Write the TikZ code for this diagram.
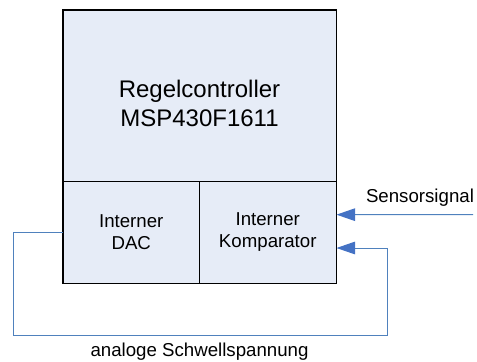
\documentclass[tikz,border=0pt]{standalone}
\usepackage{fontspec}
\setmainfont{Liberation Sans}
\usetikzlibrary{arrows.meta}

\definecolor{boxfill}{RGB}{230,236,247}
\definecolor{sigblue}{RGB}{79,129,189}
\definecolor{tipblue}{RGB}{68,114,196}

\tikzset{every picture/.style={line width=0.75pt}}
\tikzset{
  unitbox/.style={draw, fill=boxfill, minimum width=136.5*0.75pt, minimum height=102*0.75pt, inner sep=0pt, align=center, font=\fontsize{14}{16.5}\selectfont},
  sigline/.style={draw=sigblue, line width=0.75pt, -{Triangle[length=14pt,width=9.5pt,fill=tipblue,color=tipblue]}}
}

\begin{document}
\begin{tikzpicture}[x=0.75pt,y=0.75pt,yscale=-1,xscale=1]
\useasboundingbox (0,0) rectangle (477,361);

%Shape: Rectangle [id:ctrl]
\node [draw, fill=boxfill, minimum width=273*0.75pt, minimum height=171*0.75pt, inner sep=0pt] (ctrl) at (199.5,95.5) {};
%Shape: Rectangle [id:dac]
\node [unitbox] (dac) at (131.25,232) {Interner\\DAC};
%Shape: Rectangle [id:komp]
\node [unitbox] (komp) at (267.75,232) {Interner\\Komparator};
%Shape: Outer frame
\draw [line width=1.1pt] (ctrl.north west) rectangle (komp.south east);

% Text Node
\node [align=center, inner sep=0pt, font=\fontsize{18}{21.75}\selectfont] (ctrltxt) at (199.5,103) {Regelcontroller\\MSP430F1611};

%Straight Lines [id:sensor]
\coordinate (sensor) at (473,214.6);
\coordinate (sin) at ([yshift=-13pt]komp.east);
\draw [sigline] (sensor) -- (sin);
% Text Node
\node [anchor=base west, inner sep=0pt, font=\fontsize{14}{16.5}\selectfont] (senstxt) at (365.5,202) {Sensorsignal};

%Straight Lines [id:feedback]
\coordinate (fbl) at (13,335);
\coordinate (fbr) at (387,335);
\coordinate (kin) at ([yshift=12pt]komp.east);
\draw [sigline] (dac.west) -- (fbl |- dac.west) -- (fbl) -- (fbr) -- (fbr |- kin) -- (kin);
% Text Node
\node [anchor=base, inner sep=0pt, font=\fontsize{14}{16.5}\selectfont] (fbtxt) at (199.5,356) {analoge Schwellspannung};

\end{tikzpicture}
\end{document}
